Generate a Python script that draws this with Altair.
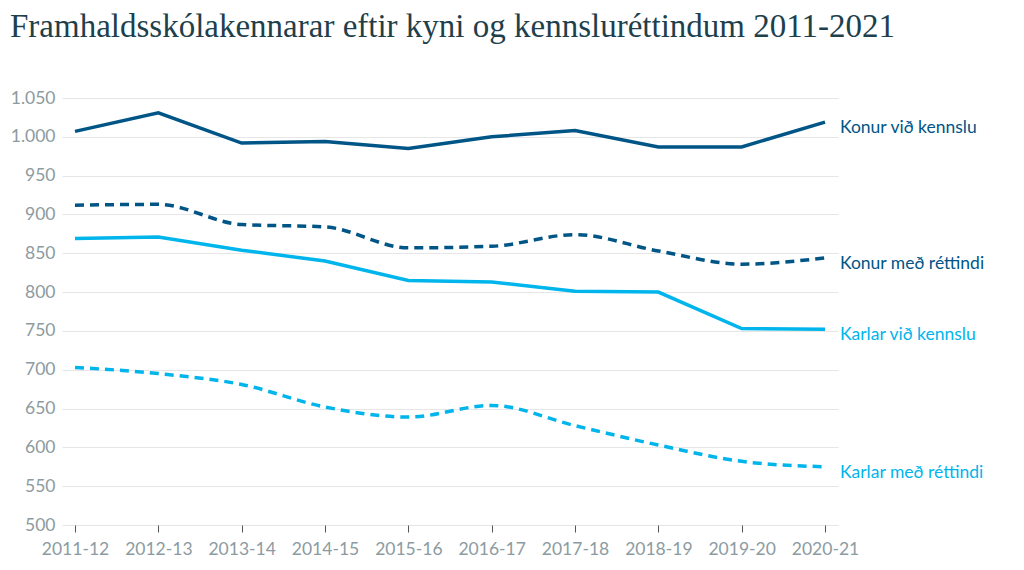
import altair as alt
import pandas as pd

years = ["2011-12", "2012-13", "2013-14", "2014-15", "2015-16",
         "2016-17", "2017-18", "2018-19", "2019-20", "2020-21"]
konur_vid = [1007, 1031, 992, 994, 985, 1000, 1008, 987, 987, 1019]
konur_med = [912, 913, 887, 884, 857, 859, 874, 853, 836, 844]
karlar_vid = [869, 871, 854, 840, 815, 813, 801, 800, 753, 752]
karlar_med = [703, 695, 681, 652, 639, 654, 628, 603, 582, 575]

series_names = ["Konur við kennslu", "Konur með réttindi",
                "Karlar við kennslu", "Karlar með réttindi"]
series_vals = [konur_vid, konur_med, karlar_vid, karlar_med]
series_dashed = [False, True, False, True]
colors = ["#005587", "#005587", "#00b5ec", "#00b5ec"]

rows = []
for name, vals, dashed in zip(series_names, series_vals, series_dashed):
    for y, v in zip(years, vals):
        rows.append({"ar": y, "fjoldi": v, "hopur": name, "dashed": dashed})
df = pd.DataFrame(rows)
last = df[df["ar"] == years[-1]]

FS = 17.5
color_scale = alt.Scale(domain=series_names, range=colors)
x_scale = alt.Scale(type="point", padding=0.156)
y_scale = alt.Scale(domain=[500, 1050], nice=False, zero=False)
x_axis = alt.Axis(title=None, labelAngle=0, domain=False,
                  ticks=True, tickColor="#555555", tickSize=7,
                  tickWidth=1, labelPadding=8, labelFont="Lato",
                  labelFontSize=FS, labelColor="#8c9ba1",
                  labelOverlap=False, grid=False)
y_axis = alt.Axis(title=None, values=list(range(500, 1051, 50)),
                  domain=False, ticks=False, labelPadding=7,
                  labelFont="Lato", labelFontSize=FS,
                  labelColor="#8c9ba1", gridColor="#e6e6e6",
                  gridWidth=1, labelOverlap=False,
                  labelExpr="replace(format(datum.value, ','), ',', '.')")
x_enc = alt.X("ar:O", sort=years, scale=x_scale, axis=x_axis)
y_enc = alt.Y("fjoldi:Q", scale=y_scale, axis=y_axis)
col_enc = alt.Color("hopur:N", scale=color_scale, legend=None)

base = alt.Chart(df)
solid = base.transform_filter("!datum.dashed").mark_line(
    strokeWidth=3.5, interpolate="linear").encode(
    x=x_enc, y=y_enc, color=col_enc, detail="hopur:N")
dashed = base.transform_filter("datum.dashed").mark_line(
    strokeWidth=3.5, interpolate="monotone", strokeDash=[9, 6]).encode(
    x=x_enc, y=y_enc, color=col_enc, detail="hopur:N")
labels = alt.Chart(last).mark_text(
    align="left", baseline="middle", dx=15, dy=6, font="Lato",
    fontSize=FS).encode(
    x=x_enc, y=y_enc, text="hopur:N", color=col_enc)

chart = alt.layer(solid, dashed, labels).properties(
    width=776, height=427,
    autosize=alt.AutoSizeParams(type="none"),
    padding={"left": 54, "top": 90, "right": 178, "bottom": 37},
    title=alt.TitleParams(
        "Framhaldsskólakennarar eftir kyni og kennsluréttindum 2011-2021",
        anchor="start", frame="group", dx=-52, offset=45,
        font="Liberation Serif", fontSize=33, fontWeight="normal",
        color="#1e3f4c"),
).configure_view(stroke=None).configure_axis(labelOverlap=False)

chart.save("out.html", embed_options={"renderer": "svg", "actions": False})
